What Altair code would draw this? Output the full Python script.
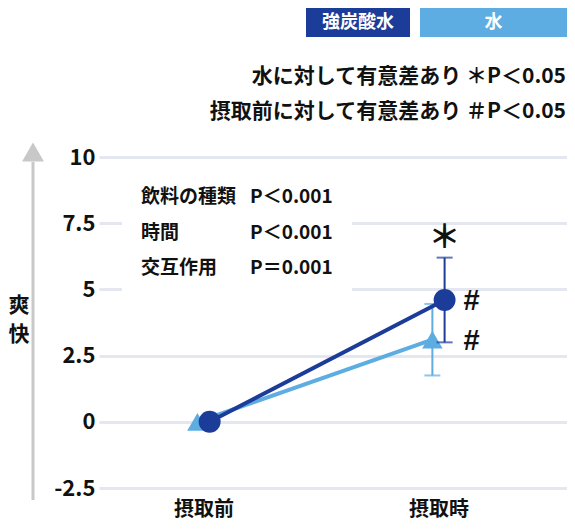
import altair as alt
import pandas as pd

times = ["摂取前", "摂取時"]
series = ["強炭酸水", "水"]
soda_mean = [0, 4.6]
soda_se = [0, 1.6]
water_mean = [0, 3.1]
water_se = [0, 1.35]
y_ticks = [-2.5, 0, 2.5, 5, 7.5, 10]
effects = ["飲料の種類", "時間", "交互作用"]
p_values = ["P＜0.001", "P＜0.001", "P＝0.001"]
notes = ["水に対して有意差あり ＊P＜0.05", "摂取前に対して有意差あり ＃P＜0.05"]
y_title = "爽快"

DARK = "#1b3c98"
LIGHT = "#5dade2"
GRID = "#e4e7f0"
AXIS_GRAY = "#c8c8c8"
INK = "#111111"
FONT = "Noto Sans CJK JP"
W, H = 468, 331

offsets = {"強炭酸水": 0.024, "水": -0.028}
rows = []
for name, means, ses in [(series[0], soda_mean, soda_se), (series[1], water_mean, water_se)]:
    for i, t in enumerate(times):
        rows.append(dict(series=name, time=t, idx=i, mean=means[i], se=ses[i],
                         lo=means[i] - ses[i], hi=means[i] + ses[i]))
df = pd.DataFrame(rows)
df["xp"] = df["idx"] + df["series"].map(offsets)

xs = alt.Scale(domain=[-0.447, 1.545], nice=False, zero=False)
ys = alt.Scale(domain=[-2.5, 10], nice=False, zero=False)
y_axis = alt.Axis(values=y_ticks, labelExpr="datum.value + ''", grid=True,
                  gridColor=GRID, gridWidth=3, domain=False, ticks=False,
                  labelFont=FONT, labelFontSize=22, labelFontWeight="bold",
                  labelColor=INK, labelPadding=4, labelFlush=False,
                  labelOverlap=False, title=None)
X = alt.X("xp:Q", scale=xs, axis=None)
Y = alt.Y("mean:Q", scale=ys, axis=y_axis)


def text(**kw):
    style = dict(font=FONT, fontWeight="bold", color=INK, baseline="middle")
    style.update(kw)
    return style


def series_layers(name, color, shape, size):
    d = df[df["series"] == name]
    base = alt.Chart(d)
    line = base.mark_line(color=color, strokeWidth=4).encode(x=X, y=Y)
    bars = d[d["se"] > 0]
    rule = alt.Chart(bars).mark_rule(color=color, strokeWidth=2).encode(
        x=X, y=alt.Y("lo:Q", scale=ys), y2="hi:Q")
    caps = [alt.Chart(bars).mark_tick(color=color, orient="horizontal", size=16,
                                      thickness=2).encode(x=X, y=alt.Y(f"{c}:Q", scale=ys))
            for c in ("lo", "hi")]
    pts = base.mark_point(shape=shape, filled=True, opacity=1, color=color,
                          size=size).encode(x=X, y=Y)
    return [line, rule] + caps + [pts]


grid_base = alt.Chart(pd.DataFrame({"mean": y_ticks})).mark_point(opacity=0).encode(y=Y)

# white box behind the stats text (interrupts gridlines)
box = alt.Chart(pd.DataFrame({"a": [0]})).mark_rect(color="white").encode(
    x=alt.value(23), x2=alt.value(253), y=alt.value(18), y2=alt.value(143))

stats = []
for i, (e, p) in enumerate(zip(effects, p_values)):
    d = pd.DataFrame({"e": [e], "p": [p]})
    yy = 40 + 35.5 * i
    stats.append(alt.Chart(d).mark_text(**text(align="left", fontSize=19))
                 .encode(x=alt.value(42), y=alt.value(yy), text="e:N"))
    stats.append(alt.Chart(d).mark_text(**text(align="left", fontSize=19))
                 .encode(x=alt.value(151), y=alt.value(yy), text="p:N"))

header = []
for i, n in enumerate(notes):
    header.append(alt.Chart(pd.DataFrame({"n": [n]})).mark_text(
        **text(align="right", fontSize=21)).encode(
        x=alt.value(467), y=alt.value(-80 + 35 * i), text="n:N"))

legend = []
for name, color, x0, x1 in [(series[0], DARK, 207, 311), (series[1], LIGHT, 321, 468)]:
    d = pd.DataFrame({"s": [name]})
    legend.append(alt.Chart(d).mark_rect(color=color).encode(
        x=alt.value(x0), x2=alt.value(x1), y=alt.value(-149), y2=alt.value(-120)))
    legend.append(alt.Chart(d).mark_text(**text(color="white", fontSize=18)).encode(
        x=alt.value((x0 + x1) / 2), y=alt.value(-134), text="s:N"))

arrow_line = alt.Chart(pd.DataFrame({"a": [0]})).mark_rule(color=AXIS_GRAY, strokeWidth=3).encode(
    x=alt.value(-66), y=alt.value(5), y2=alt.value(343))
arrow_head = alt.Chart(pd.DataFrame({"a": [0]})).mark_point(
    shape="triangle-up", filled=True, opacity=1, color=AXIS_GRAY, size=480).encode(
    x=alt.value(-66), y=alt.value(-5))
ytitle = [alt.Chart(pd.DataFrame({"t": [ch]})).mark_text(**text(fontSize=21)).encode(
    x=alt.value(-80), y=alt.value(149 + 29 * i), text="t:N")
    for i, ch in enumerate(y_title)]

xlabels = alt.Chart(pd.DataFrame({"time": times, "xp": [0, 1]})).mark_text(
    **text(fontSize=20)).encode(x=X, y=alt.value(353), text="time:N")

post_soda = df[(df["series"] == series[0]) & (df["idx"] == 1)]
post_all = df[df["idx"] == 1].copy()
post_all["xp"] = 1 + offsets[series[0]]
star = alt.Chart(post_soda).mark_text(**text(text="＊", fontSize=32, dy=-20)).encode(
    x=X, y=alt.Y("hi:Q", scale=ys))
hashes = alt.Chart(post_all).mark_text(
    **text(text="#", font="Liberation Sans", fontSize=29, dx=27, dy=1)).encode(x=X, y=Y)

layers = ([grid_base, box] + stats + header + legend + [arrow_line, arrow_head] + ytitle
          + [xlabels]
          + series_layers(series[1], LIGHT, "triangle-up", 420)
          + series_layers(series[0], DARK, "circle", 480)
          + [star, hashes])

chart = alt.layer(*layers).properties(
    width=W, height=H, autosize="none",
    padding={"left": 91, "top": 149, "right": 0, "bottom": 36},
).configure_view(stroke=None)

chart.save("out.html", embed_options={"renderer": "svg", "actions": False})
